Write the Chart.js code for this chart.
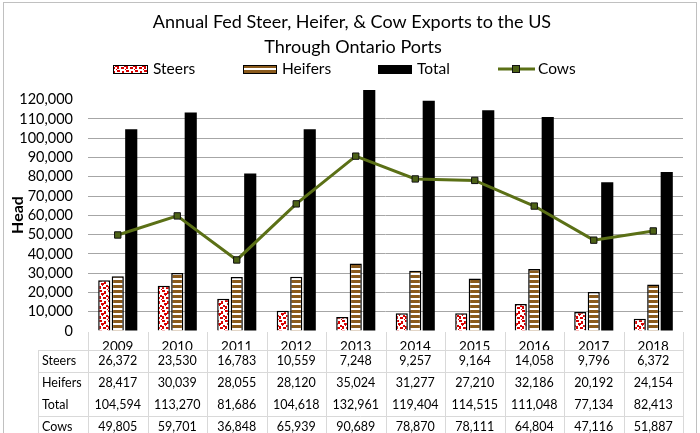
<!DOCTYPE html>
<html>
<head>
<meta charset="utf-8">
<script src="https://cdn.jsdelivr.net/npm/chart.js@4.4.0/dist/chart.umd.min.js"></script>
<style>
html, body { margin: 0; padding: 0; background: #fff; }
</style>
</head>
<body>
<canvas id="myChart" width="700" height="433"></canvas>
<script>
var years = ['2009', '2010', '2011', '2012', '2013', '2014', '2015', '2016', '2017', '2018'];
var steers = [26372, 23530, 16783, 10559, 7248, 9257, 9164, 14058, 9796, 6372];
var heifers = [28417, 30039, 28055, 28120, 35024, 31277, 27210, 32186, 20192, 24154];
var total = [104594, 113270, 81686, 104618, 132961, 119404, 114515, 111048, 77134, 82413];
var cows = [49805, 59701, 36848, 65939, 90689, 78870, 78111, 64804, 47116, 51887];
var yTicks = [0, 10000, 20000, 30000, 40000, 50000, 60000, 70000, 80000, 90000, 100000, 110000, 120000];

var titleLines = ['Annual Fed Steer, Heifer, & Cow Exports to the US', 'Through Ontario Ports'];
var FONT = 'Lato, "Open Sans", sans-serif';
var GREEN = '#5b7016';

function fmt(v) { return v.toLocaleString('en-US'); }

// white with red dots
function dotPattern() {
  var c = document.createElement('canvas');
  c.width = 9; c.height = 10;
  var g = c.getContext('2d');
  g.fillStyle = '#fff';
  g.fillRect(0, 0, 9, 10);
  g.fillStyle = '#d80000';
  [[0, 0, 3, 2], [5, 1, 2, 3], [2, 3, 3, 2], [7, 5, 2, 2], [0, 6, 2, 3], [4, 7, 3, 2], [3, 5, 1, 1], [8, 9, 1, 1]].forEach(function (p) {
    g.fillRect(p[0], p[1], p[2], p[3]);
  });
  return g.createPattern(c, 'repeat');
}

// brown/white horizontal stripes
function stripePattern() {
  var c = document.createElement('canvas');
  c.width = 4; c.height = 5;
  var g = c.getContext('2d');
  g.fillStyle = '#fff';
  g.fillRect(0, 0, 4, 5);
  g.fillStyle = '#8a5a1c';
  g.fillRect(0, 0, 4, 3);
  return g.createPattern(c, 'repeat');
}

var steerFill = dotPattern();
var heiferFill = stripePattern();

var extras = {
  id: 'extras',
  afterDraw: function (chart) {
    var ctx = chart.ctx;
    var x = chart.scales.x;
    var a = chart.chartArea;
    ctx.save();

    // outer frame
    ctx.strokeStyle = '#c0c0c0';
    ctx.lineWidth = 1;
    ctx.strokeRect(3.5, 2.5, 693, 440);

    // title
    ctx.fillStyle = '#000';
    ctx.textAlign = 'center';
    ctx.textBaseline = 'middle';
    ctx.font = '18px ' + FONT;
    ctx.fillText(titleLines[0], 352, 22);
    ctx.fillText(titleLines[1], 353, 47);

    // legend
    ctx.font = '15.5px ' + FONT;
    ctx.textAlign = 'left';
    var ly = 69;
    ctx.fillStyle = steerFill;
    ctx.fillRect(113, ly - 4, 35, 9);
    ctx.strokeStyle = '#000';
    ctx.lineWidth = 1;
    ctx.strokeRect(113.5, ly - 3.5, 34, 8);
    ctx.fillStyle = '#000';
    ctx.fillText('Steers', 153, ly);

    ctx.fillStyle = heiferFill;
    ctx.fillRect(243, ly - 4, 34, 9);
    ctx.strokeRect(243.5, ly - 3.5, 33, 8);
    ctx.fillStyle = '#000';
    ctx.fillText('Heifers', 282, ly);

    ctx.fillRect(378, ly - 4, 34, 9);
    ctx.fillText('Total', 417, ly);

    ctx.strokeStyle = GREEN;
    ctx.lineWidth = 3;
    ctx.beginPath();
    ctx.moveTo(498, ly);
    ctx.lineTo(535, ly);
    ctx.stroke();
    ctx.fillStyle = '#4d6216';
    ctx.fillRect(512, ly - 4, 8, 8);
    ctx.strokeStyle = '#111';
    ctx.lineWidth = 1;
    ctx.strokeRect(512.5, ly - 3.5, 7, 7);
    ctx.fillStyle = '#000';
    ctx.fillText('Cows', 538, ly);

    // axis title
    ctx.save();
    ctx.translate(18, 215);
    ctx.rotate(-Math.PI / 2);
    ctx.textAlign = 'center';
    ctx.font = 'bold 16px ' + FONT;
    ctx.fillText('Head', 0, 0);
    ctx.restore();

    // data table
    var half = (x.getPixelForValue(1) - x.getPixelForValue(0)) / 2;
    var left = x.getPixelForValue(0) - half;
    var right = x.getPixelForValue(years.length - 1) + half;
    var rows = [['Steers', steers], ['Heifers', heifers], ['Total', total], ['Cows', cows]];
    var rowY = [361, 383, 405, 427];

    ctx.strokeStyle = '#d9d9d9';
    ctx.lineWidth = 1;
    ctx.beginPath();
    [350, 372, 416].forEach(function (y) {
      ctx.moveTo(38, y + 0.5);
      ctx.lineTo(right, y + 0.5);
    });
    ctx.moveTo(38.5, 350);
    ctx.lineTo(38.5, 433);
    for (var i = 0; i <= years.length; i++) {
      var bx = Math.round(left + i * 2 * half) + 0.5;
      ctx.moveTo(bx, a.bottom + 1);
      ctx.lineTo(bx, 433);
    }
    ctx.stroke();

    ctx.fillStyle = '#000';
    ctx.font = '12.5px ' + FONT;
    rows.forEach(function (r, ri) {
      ctx.textAlign = 'left';
      ctx.fillText(r[0], 42, rowY[ri]);
      ctx.textAlign = 'center';
      r[1].forEach(function (v, j) {
        ctx.fillText(fmt(v), x.getPixelForValue(j), rowY[ri]);
      });
    });
    ctx.restore();
  }
};

var ctx = document.getElementById('myChart').getContext('2d');
var chart = new Chart(ctx, {
  type: 'bar',
  data: {
    labels: years,
    datasets: [{
      type: 'line',
      label: 'Cows',
      data: cows,
      order: 0,
      borderColor: GREEN,
      borderWidth: 3,
      tension: 0,
      pointStyle: 'rect',
      pointRadius: 4.5,
      pointBackgroundColor: '#4d6216',
      pointBorderColor: '#111',
      pointBorderWidth: 1
    }, {
      label: 'Steers',
      data: steers,
      order: 1,
      backgroundColor: steerFill,
      borderColor: '#000',
      borderWidth: 1.5
    }, {
      label: 'Heifers',
      data: heifers,
      order: 1,
      backgroundColor: heiferFill,
      borderColor: '#000',
      borderWidth: 1.5
    }, {
      label: 'Total',
      data: total,
      order: 1,
      backgroundColor: '#000',
      borderWidth: 0,
      clip: 0
    }]
  },
  options: {
    responsive: false,
    animation: false,
    events: [],
    categoryPercentage: 0.68,
    barPercentage: 0.9,
    layout: { padding: { top: 90, right: 17, left: 0, bottom: 0 } },
    plugins: {
      legend: { display: false },
      title: { display: false },
      tooltip: { enabled: false }
    },
    scales: {
      x: {
        grid: { display: false },
        border: { display: false },
        ticks: { padding: 0, color: '#000', font: { family: FONT, size: 13.5 } },
        afterFit: function (s) { s.height = 102; }
      },
      y: {
        min: 0,
        max: 125000,
        afterBuildTicks: function (s) {
          s.ticks = yTicks.map(function (v) { return { value: v }; });
        },
        border: { display: false },
        grid: {
          drawTicks: false,
          color: function (c) {
            var v = c.tick ? c.tick.value : 0;
            return (v > 0 && v < 120000) ? '#a6a6a6' : 'rgba(0,0,0,0)';
          }
        },
        ticks: {
          autoSkip: false,
          padding: 15,
          color: '#000',
          font: { family: FONT, size: 14.5 },
          callback: function (v) { return fmt(v); }
        },
        afterFit: function (s) { s.width = 88; }
      }
    }
  },
  plugins: [extras]
});
</script>
</body>
</html>
